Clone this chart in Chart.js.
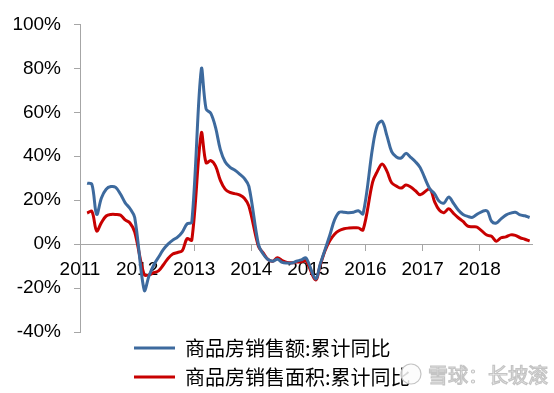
<!DOCTYPE html>
<html>
<head>
<meta charset="utf-8">
<script src="https://cdn.jsdelivr.net/npm/chart.js@4.4.0/dist/chart.umd.min.js"></script>
<style>
  html, body { margin: 0; padding: 0; background: #fff; }
</style>
</head>
<body>
<canvas id="mycanvas" width="554" height="393"></canvas>
<script>
// monthly cumulative YoY (%), Jan is merged into Jan-Feb so each year starts in Feb
var years = [2011, 2012, 2013, 2014, 2015, 2016, 2017, 2018];
var months = [2, 3, 4, 5, 6, 7, 8, 9, 10, 11, 12];
var seriesNames = ['商品房销售额:累计同比', '商品房销售面积:累计同比'];

var valueYoY = [
	[27.7, 27.2, 13.5, 21.0, 25.0, 26.2, 25.8, 22.8, 18.8, 16.2, 12.1],
	[-21.0, -14.5, -9.5, -6.0, -2.5, 0.0, 1.8, 3.2, 5.5, 9.2, 10.0],
	[79.6, 61.5, 59.5, 53.0, 43.0, 37.5, 35.0, 33.7, 32.0, 30.0, 26.3],
	[-0.1, -4.5, -7.0, -7.8, -6.9, -8.3, -8.6, -8.6, -7.8, -7.2, -6.3],
	[-15.8, -9.0, -2.5, 4.0, 11.0, 14.5, 14.5, 14.3, 14.5, 15.2, 13.8],
	[44.0, 54.1, 55.9, 49.4, 42.1, 39.7, 39.2, 41.3, 39.5, 37.5, 34.8],
	[25.2, 23.0, 19.5, 18.7, 21.5, 18.6, 15.5, 13.5, 12.6, 12.2, 13.7],
	[15.2, 10.4, 9.6, 11.5, 13.2, 14.1, 14.5, 13.3, 12.9, 12.1]
];

var areaYoY = [
	[14.1, 14.9, 6.0, 9.8, 12.8, 13.5, 13.5, 13.2, 11.0, 9.6, 5.5],
	[-14.0, -14.0, -13.0, -12.2, -9.5, -6.5, -4.5, -3.8, -3.0, 2.5, 1.8],
	[50.5, 37.0, 38.0, 35.5, 29.0, 25.0, 23.5, 23.0, 22.4, 21.0, 17.3],
	[-1.0, -4.0, -7.0, -7.8, -6.2, -7.5, -8.3, -8.5, -8.2, -8.0, -7.6],
	[-16.3, -9.5, -3.0, 1.5, 4.5, 6.2, 7.0, 7.3, 7.4, 7.4, 6.5],
	[28.2, 33.1, 36.5, 33.2, 27.9, 26.4, 25.5, 26.9, 26.0, 24.3, 22.5],
	[25.0, 19.5, 15.5, 14.3, 16.1, 14.0, 12.0, 10.3, 8.2, 7.9, 7.7],
	[4.1, 3.6, 1.3, 2.9, 3.3, 4.2, 4.0, 2.9, 2.2, 1.4]
];

var yTicks = [-40, -20, 0, 20, 40, 60, 80, 100];

var lineColors = ['#3D6A9E', '#C80000'];
var axisColor = '#a6a6a6';

function toPoints(rows) {
	var pts = [];
	for (var i = 0; i < rows.length; i++) {
		for (var j = 0; j < rows[i].length; j++) {
			pts.push({x: years[i] + (months[j] - 0.5) / 12, y: rows[i][j]});
		}
	}
	return pts;
}

// move the legend under the plot, left aligned like the original
var legendShift = {
	id: 'legendShift',
	afterLayout: function(chart) {
		var lg = chart.legend;
		var h = lg.height;
		lg.left = 125;
		lg.width = lg.right - lg.left;
		lg.top = 329;
		lg.bottom = lg.top + h;
	}
};

var watermark = {
	id: 'watermark',
	afterDraw: function(chart) {
		var ctx = chart.ctx;
		ctx.save();
		ctx.lineWidth = 1.2;
		ctx.strokeStyle = '#c4c4c4';
		ctx.fillStyle = 'rgba(252,252,252,0.85)';
		ctx.beginPath();
		ctx.arc(411, 374, 10, 0, Math.PI * 2);
		ctx.fill();
		ctx.stroke();
		ctx.font = '20px "Noto Sans CJK SC"';
		ctx.textBaseline = 'middle';
		ctx.fillText('雪球：长坡滚', 428, 375);
		ctx.strokeText('雪球：长坡滚', 428, 375);
		ctx.restore();
	}
};

var ctx = document.getElementById('mycanvas');
var lineChart = new Chart(ctx, {
	type: 'line',
	data: {
		datasets: [
			{
				label: seriesNames[0],
				data: toPoints(valueYoY),
				borderColor: lineColors[0],
				backgroundColor: lineColors[0],
				borderWidth: 3,
				pointRadius: 0,
				tension: 0.35
			},
			{
				label: seriesNames[1],
				data: toPoints(areaYoY),
				borderColor: lineColors[1],
				backgroundColor: lineColors[1],
				borderWidth: 3,
				pointRadius: 0,
				tension: 0.35
			}
		]
	},
	options: {
		responsive: false,
		animation: false,
		layout: {padding: {top: 22, right: 22, bottom: 0, left: 0}},
		scales: {
			x: {
				type: 'linear',
				position: {y: 0},
				min: 2011,
				max: 2011 + 95 / 12,
				afterBuildTicks: function(axis) {
					axis.ticks = years.map(function(v) { return {value: v}; });
				},
				grid: {drawOnChartArea: false, tickLength: 6, color: axisColor},
				border: {color: axisColor, width: 1},
				ticks: {
					padding: 8,
					maxRotation: 0,
					color: '#000',
					font: {family: '"Liberation Sans", Arial', size: 19},
					callback: function(v) { return String(v); }
				}
			},
			y: {
				min: -40,
				max: 100,
				afterBuildTicks: function(axis) {
					axis.ticks = yTicks.map(function(v) { return {value: v}; });
				},
				afterFit: function(scale) { scale.width = 80; },
				grid: {drawOnChartArea: false, tickLength: 6, color: axisColor},
				border: {color: axisColor, width: 1},
				ticks: {
					padding: 13,
					color: '#000',
					font: {family: '"Liberation Sans", Arial', size: 19},
					callback: function(v) { return v + '%'; }
				}
			}
		},
		plugins: {
			tooltip: {enabled: false},
			legend: {
				position: 'bottom',
				align: 'start',
				fullSize: false,
				maxHeight: 61,
				labels: {
					boxWidth: 41,
					boxHeight: 3,
					padding: 9,
					color: '#000',
					font: {family: '"Noto Sans CJK SC"', size: 20},
					generateLabels: function(chart) {
						var items = Chart.defaults.plugins.legend.labels.generateLabels(chart);
						items.forEach(function(it, i) {
							it.lineWidth = 0;
							it.fillStyle = lineColors[i];
						});
						return items;
					}
				}
			}
		}
	},
	plugins: [legendShift, watermark]
});
</script>
</body>
</html>
